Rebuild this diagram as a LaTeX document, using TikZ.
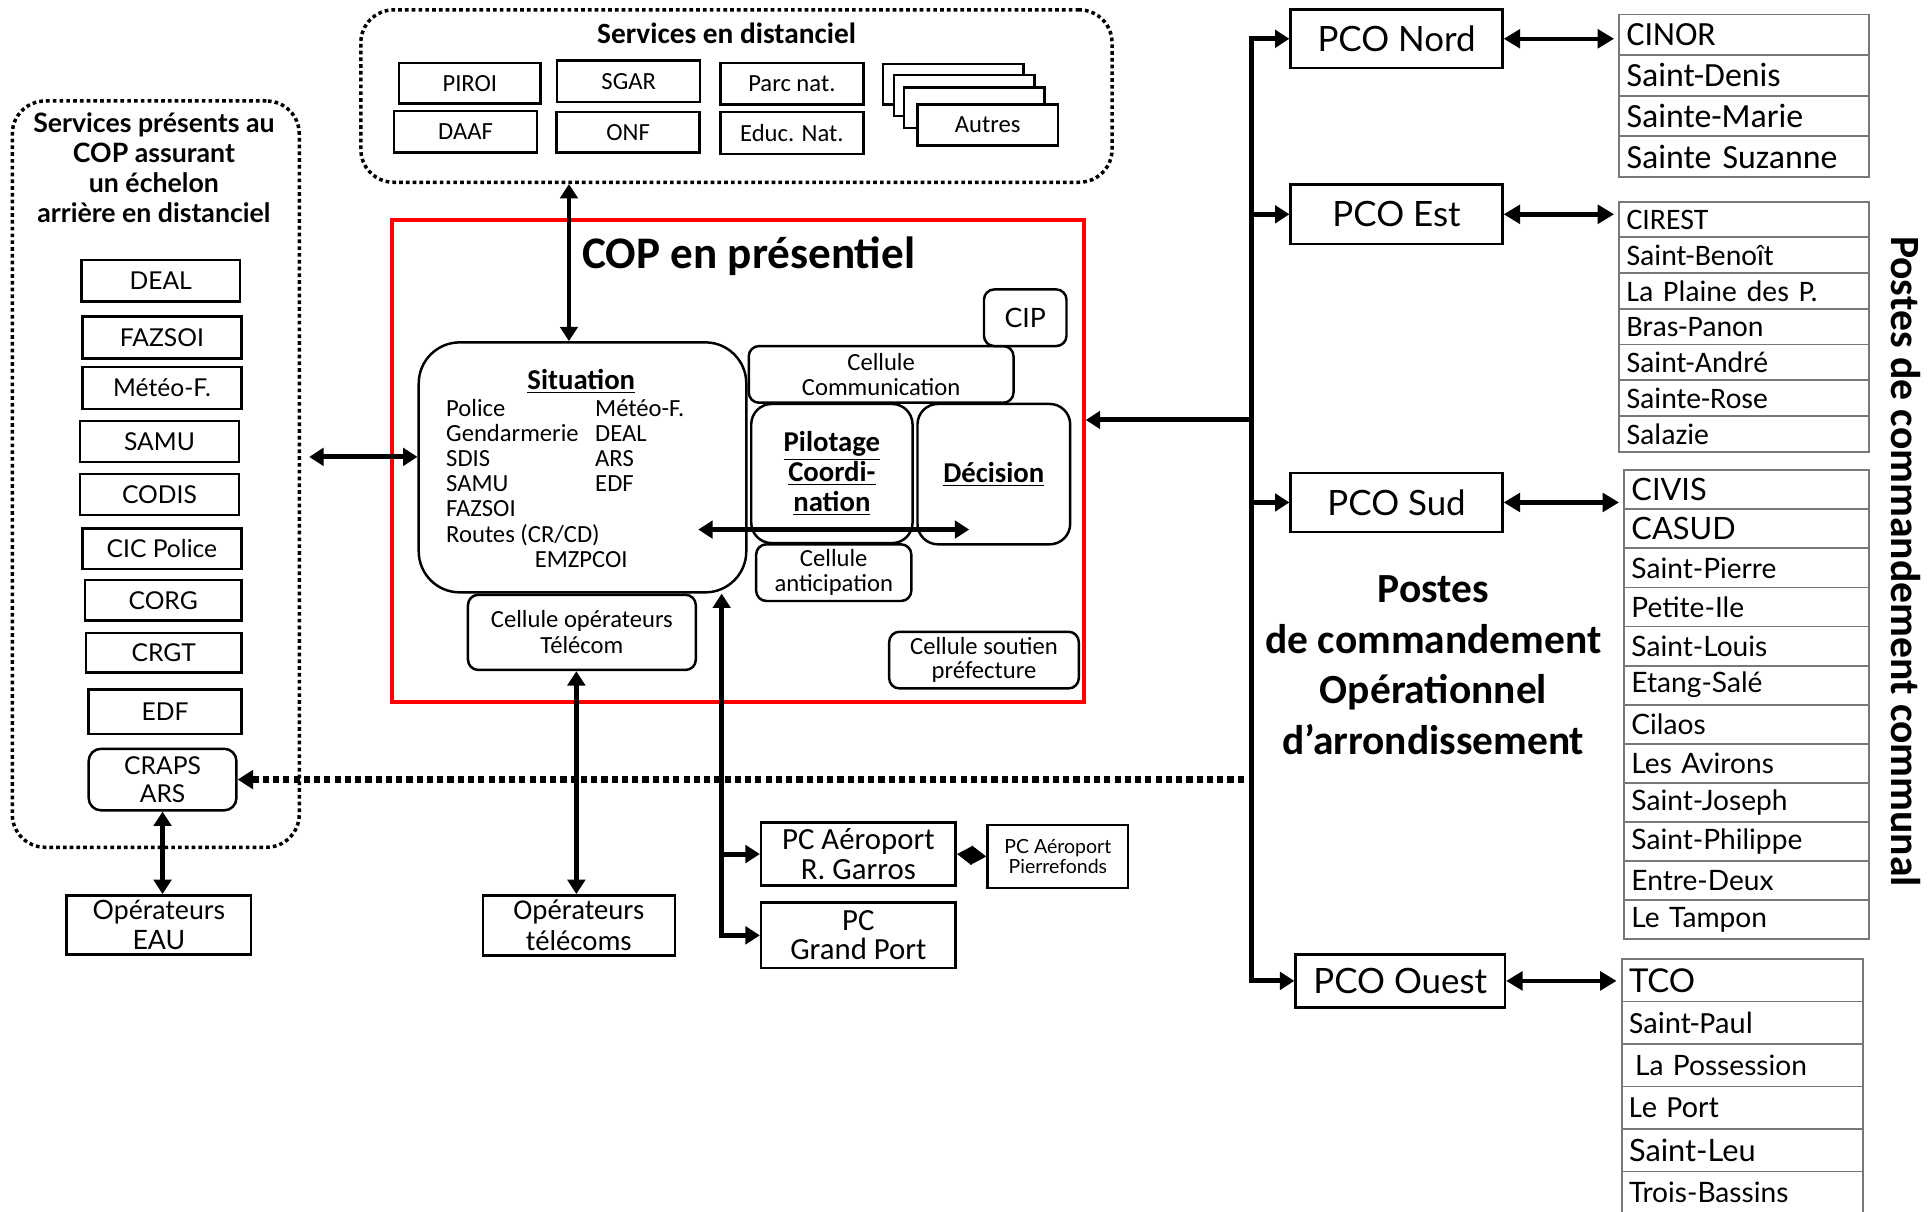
\documentclass[tikz,border=0pt]{standalone}
\usepackage{fontspec}
\setmainfont{Lato}
\newfontfamily\calib{Carlito}
\usetikzlibrary{arrows.meta,calc}
\definecolor{copred}{RGB}{255,0,0}
\definecolor{tgray}{RGB}{120,120,120}
\begin{document}
\begin{tikzpicture}[x=0.6pt,y=-0.6pt,
 box/.style={draw, line width=1.2pt, inner sep=0pt, align=center, fill=white},
 rbox/.style={box, rounded corners=5pt},
 lbox/.style={box, font=\fontsize{12}{14}\selectfont},
 tbox/.style={box, font=\calib\fontsize{12}{14}\selectfont, minimum width=69.6pt, minimum height=20.4pt},
 cbox/.style={rbox, font=\calib\fontsize{12}{12}\selectfont},
 pbox/.style={box, font=\fontsize{17}{20}\selectfont, minimum width=103.2pt, minimum height=28.5pt},
 dotbox/.style={draw, line width=1.7pt, dash pattern=on 1.8pt off 1.5pt, rounded corners=16pt, inner sep=0pt},
 thk/.style={line width=2.4pt, >={Triangle[length=7pt,width=8.5pt]}},
 arr/.style={thk, ->},
 darr/.style={thk, <->},
 tarr/.style={line width=2.2pt, <->, >={Triangle[length=8pt,width=9pt]}},
 dotarr/.style={line width=3.2pt, dash pattern=on 3pt off 2pt, ->, >={Triangle[length=7.5pt,width=9pt]}},
 sl/.style={anchor=west, inner sep=0pt, font=\calib\fontsize{12}{12}\selectfont, text height=7.7pt, text depth=0pt},
 tcell/.style={draw=tgray, line width=0.9pt, inner xsep=3.6pt, inner ysep=0pt, align=left, anchor=north west}
]
\useasboundingbox (0,0) rectangle (1568,984);

% ---------- left panel ----------
\node[dotbox, minimum width=139.8pt, minimum height=363.6pt] (leftp) at (126.5,385) {};
\node[font=\bfseries\fontsize{13}{14.6}\selectfont, align=center] (lefttitle) at (125,136.5) {Services présents au\\COP assurant\\un échelon\\arrière en distanciel};
\node[lbox, minimum width=77.4pt, minimum height=20.4pt] (deal) at (130.5,228) {DEAL};
\node[lbox, minimum width=77.4pt, minimum height=20.4pt] (fazsoi) at (131.5,274) {FAZSOI};
\node[lbox, minimum width=77.4pt, minimum height=20.4pt] (meteo) at (131.5,315) {Météo-F.};
\node[lbox, minimum width=77.4pt, minimum height=19.8pt] (samu) at (129.5,358.5) {SAMU};
\node[lbox, minimum width=77.4pt, minimum height=19.8pt] (codis) at (129.5,401.5) {CODIS};
\node[lbox, minimum width=77.4pt, minimum height=19.8pt] (cic) at (131.5,445.5) {CIC Police};
\node[lbox, minimum width=76.2pt, minimum height=19.8pt] (corg) at (132.5,487.5) {CORG};
\node[lbox, minimum width=75.6pt, minimum height=19.2pt] (crgt) at (133,530) {CRGT};
\node[lbox, minimum width=74.4pt, minimum height=21.6pt] (edf) at (134,578) {EDF};
\node[lbox, rounded corners=6pt, font=\fontsize{12}{13.8}\selectfont, minimum width=72pt, minimum height=30pt] (craps) at (132,633) {CRAPS\\ARS};
\node[box, font=\fontsize{13}{14.4}\selectfont, minimum width=90pt, minimum height=28.8pt] (eau) at (129,751) {Opérateurs\\EAU};

% ---------- top panel ----------
\node[dotbox, minimum width=366pt, minimum height=84pt] (topp) at (598,78) {};
\node[font=\calib\bfseries\fontsize{14.3}{16}\selectfont] (toptitle) at (590,27) {Services en distanciel};
\node[tbox, minimum width=69pt, minimum height=19.8pt] (piroi) at (381.5,67.5) {PIROI};
\node[tbox] (sgar) at (510.5,66) {SGAR};
\node[tbox] (parc) at (643,68) {Parc nat.};
\node[tbox] (daaf) at (378,107) {DAAF};
\node[tbox, minimum height=19.8pt] (onf) at (510,107.5) {ONF};
\node[tbox] (educ) at (643,108) {Educ. Nat.};
\node[tbox, minimum width=68.4pt, minimum height=19.8pt] (aut1) at (774,68.5) {};
\node[tbox, minimum width=68.4pt, minimum height=19.8pt] (aut2) at (783,77.5) {};
\node[tbox, minimum width=68.4pt, minimum height=19.8pt] (aut3) at (791,87.5) {};
\node[tbox, minimum width=68.4pt, minimum height=19.8pt] (autres) at (802,101.5) {Autres};

% ---------- COP ----------
\node[draw=copred, line width=2pt, minimum width=337.2pt, minimum height=234.6pt, inner sep=0pt] (cop) at (599,374.5) {};
\node[font=\calib\bfseries\fontsize{22}{24}\selectfont] (coptitle) at (608,208) {COP en présentiel};
\node[draw, line width=1.2pt, rounded corners=20pt, minimum width=159.6pt, minimum height=121.8pt, inner sep=0pt] (sit) at (473,379.5) {};
\node[font=\calib\bfseries\fontsize{14}{16}\selectfont] (sith) at (472,310) {\underline{Situation}};
\node[sl] (s1) at (362,332) {Police};
\node[sl] (s2) at (362,352) {Gendarmerie};
\node[sl] (s3) at (362,372) {SDIS};
\node[sl] (s4) at (362,393) {SAMU};
\node[sl] (s5) at (362,413) {FAZSOI};
\node[sl] (s6) at (362,434) {Routes (CR/CD)};
\node[sl] (s7) at (434,454) {EMZPCOI};
\node[sl] (r1) at (483,332) {Météo-F.};
\node[sl] (r2) at (483,352) {DEAL};
\node[sl] (r3) at (483,372) {ARS};
\node[sl] (r4) at (483,393) {EDF};

\node[cbox, minimum width=129pt, minimum height=27.6pt] (ccom) at (715.5,304) {Cellule\\Communication};
\node[rbox, font=\fontsize{13}{14}\selectfont, minimum width=40.2pt, minimum height=27.6pt] (cip) at (832.5,258) {CIP};
\node[rbox, rounded corners=10pt, font=\calib\bfseries\fontsize{14}{14.7}\selectfont, minimum width=78.6pt, minimum height=67.8pt] (pil) at (675.5,384.5) {\underline{Pilotage}\\\underline{Coordi-}\\\underline{nation}};
\node[rbox, rounded corners=10pt, font=\calib\bfseries\fontsize{14}{14.7}\selectfont, minimum width=74.4pt, minimum height=68.4pt] (dec) at (807,385) {\underline{Décision}};
\node[cbox, minimum width=75.6pt, minimum height=27.6pt] (canti) at (677,465) {Cellule\\anticipation};
\node[cbox, font=\calib\fontsize{12}{12.6}\selectfont, minimum width=111pt, minimum height=36.6pt] (cellop) at (472.5,513.5) {Cellule opérateurs\\Télécom};
\node[cbox, minimum width=92.4pt, minimum height=27.6pt] (csout) at (799,536) {Cellule soutien\\préfecture};

% ---------- bottom middle ----------
\node[box, font=\calib\fontsize{14}{15}\selectfont, minimum width=93.6pt, minimum height=29.4pt] (optel) at (470,751.5) {Opérateurs\\télécoms};
\node[box, font=\calib\fontsize{15}{14.4}\selectfont, minimum width=94.8pt, minimum height=30.6pt] (aero) at (697,693.5) {PC Aéroport\\R. Garros};
\node[box, font=\calib\fontsize{15}{14.4}\selectfont, minimum width=94.8pt, minimum height=31.8pt] (gport) at (697,759.5) {PC\\Grand Port};
\node[box, font=\fontsize{9.5}{10.2}\selectfont, minimum width=68.4pt, minimum height=30.6pt] (pierre) at (859,695.5) {PC Aéroport\\Pierrefonds};

% ---------- PCO ----------
\node[pbox] (nord) at (1134,31.5) {PCO Nord};
\node[pbox, minimum height=28.8pt] (est) at (1134,174) {PCO Est};
\node[pbox, minimum height=28.8pt] (sud) at (1134,408) {PCO Sud};
\node[pbox, minimum width=102pt, minimum height=25.8pt] (ouest) at (1137,796.5) {PCO Ouest};
\node[font=\calib\bfseries\fontsize{20.2}{24.6}\selectfont, align=center] (pcotext) at (1164,540) {Postes\\de commandement\\Opérationnel\\d’arrondissement};
\node[rotate=-90, font=\calib\bfseries\fontsize{20.3}{24}\selectfont] (pcc) at (1548,456) {Postes de commandement communal};

% ---------- tables ----------
\foreach \t [count=\i from 0] in {CINOR, Saint-Denis, Sainte-Marie, Sainte Suzanne}
  \node[tcell, text width=114.6pt, minimum height=19.8pt, font=\calib\fontsize{16.5}{17}\selectfont] (nordc\i) at (1314,{11+33*\i}) {\t};
\foreach \t [count=\i from 0] in {CIREST, Saint-Benoît, La Plaine des P., Bras-Panon, Saint-André, Sainte-Rose, Salazie}
  \node[tcell, text width=114.6pt, minimum height=17.4pt, font=\calib\fontsize{14.5}{15}\selectfont] (estc\i) at (1314,{163+29*\i}) {\t};
\foreach \t [count=\i from 0] in {{\fontsize{15}{15}\selectfont CIVIS}, {\fontsize{15}{15}\selectfont CASUD}, Saint-Pierre, Petite-Ile, Saint-Louis, Etang-Salé, Cilaos, Les Avirons, Saint-Joseph, Saint-Philippe, Entre-Deux, Le Tampon}
  \node[tcell, text width=112.2pt, minimum height=19.05pt, font=\fontsize{13.7}{14}\selectfont] (sudc\i) at (1318,{381+31.75*\i}) {\t};
\foreach \t [count=\i from 0] in {{\fontsize{16}{16}\selectfont TCO}, {\calib\fontsize{15}{15}\selectfont Saint-Paul}, \hspace*{3pt}La Possession, {\calib\fontsize{15}{15}\selectfont Le Port}, {\fontsize{15}{15}\selectfont Saint-Leu}, Trois-Bassins}
  \node[tcell, text width=110.4pt, minimum height=20.7pt, font=\fontsize{13.7}{14}\selectfont] (ouestc\i) at (1316,{778+34.5*\i}) {\t};

% ---------- connectors ----------
\coordinate (ax) at (462,0);
\draw[darr] (topp.south -| ax) -- (sit.north -| ax);
\coordinate (ly) at (0,371);
\draw[darr, shorten <=4pt] (leftp.east |- ly) -- (sit.west |- ly);
\coordinate (h1) at (567,430);
\coordinate (h2) at (787,430);
\draw[darr] (h1) -- (h2);
\coordinate (vx) at (468,0);
\draw[darr] (cellop.south -| vx) -- (optel.north -| vx);
\coordinate (v2) at (586,0);
\draw[darr] (sit.south -| v2) |- (gport.west);
\draw[arr] (v2 |- aero.west) -- (aero.west);
\draw[line width=2pt, <->, >={Triangle[length=7.5pt,width=9pt]}] (aero.east) -- (pierre.west);
\draw[darr] (craps.south) -- (craps.south |- eau.north);

\coordinate (tx) at (1016,0);
\draw[thk, line cap=rect] (nord.west -| tx) -- (ouest.west -| tx);
\draw[arr] (nord.west -| tx) -- (nord.west);
\draw[arr] (est.west -| tx) -- (est.west);
\draw[arr] (sud.west -| tx) -- (sud.west);
\draw[arr] (ouest.west -| tx) -- (ouest.west);
\coordinate (j1) at (1016,341);
\draw[arr] (j1) -- (j1 -| cop.east);
\coordinate (j2) at (1010,633);
\draw[dotarr] (j2) -- (craps.east);

\draw[tarr, shorten >=2pt] (nord.east) -- (nord.east -| nordc0.west);
\draw[tarr, shorten >=2pt] (est.east) -- (est.east -| estc0.west);
\draw[tarr, shorten >=2pt] (sud.east) -- (sud.east -| sudc0.west);
\draw[tarr, shorten >=2pt] (ouest.east) -- (ouest.east -| ouestc0.west);
\end{tikzpicture}
\end{document}
